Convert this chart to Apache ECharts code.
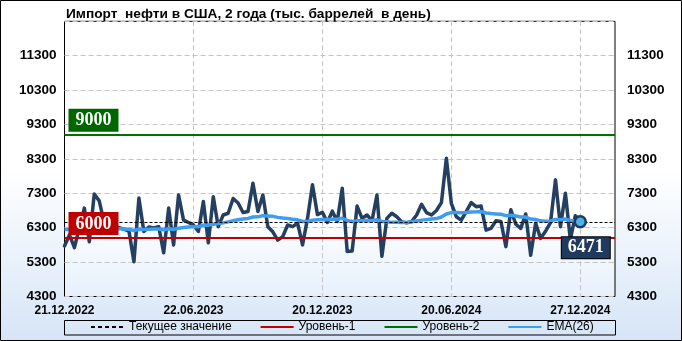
<!DOCTYPE html>
<html>
<head>
<meta charset="utf-8">
<script src="https://cdn.jsdelivr.net/npm/echarts@6/dist/echarts.min.js"></script>
<style>
html,body{margin:0;padding:0;background:#fff;}
#c{width:682px;height:341px;}
</style>
</head>
<body>
<div id="c"></div>
<script>
const titleText = 'Импорт  нефти в США, 2 года (тыс. баррелей  в день)';
const xTickLabels = ['21.12.2022', '22.06.2023', '20.12.2023', '20.06.2024', '27.12.2024'];
const tickStep = 26;
const totalSlots = 112;
const yTicks = [4300, 5300, 6300, 7300, 8300, 9300, 10300, 11300];
const level1 = 6000;
const level2 = 9000;
const importValues = [
  5770, 6090, 5720, 6300, 6870, 5890, 7280, 7080, 6450, 6350,
  6330, 6300, 6260, 6200, 5310, 7160, 6190, 6320, 6290, 6330,
  5570, 6870, 5800, 7250, 6520, 6450, 6380, 6190, 7060, 5860,
  7200, 6330, 6670, 6720, 7150, 7020, 6740, 6770, 7590, 6770,
  7250, 6330, 6180, 5940, 6040, 6380, 6330, 6430, 5800, 6570,
  7550, 6680, 6750, 6450, 6780, 6480, 7450, 5610, 5620, 6930,
  6570, 6670, 6500, 7250, 5470, 6570, 6720, 6620, 6470, 6440,
  6480, 6670, 6980, 6740, 6670, 6800, 7030, 8320, 7010, 6620,
  6520, 6770, 7030, 6910, 6930, 6230, 6280, 6500, 6480, 5750,
  6820, 6400, 6280, 6700, 5500, 6430, 5990, 6200, 6450, 7690,
  6330, 7300, 5950, 6650, 6471
];
const emaValues = [
  6250, 6250, 6240, 6245, 6260, 6255, 6265, 6275, 6280, 6275,
  6270, 6270, 6265, 6255, 6220, 6255, 6250, 6255, 6260, 6265,
  6240, 6270, 6250, 6285, 6305, 6320, 6330, 6330, 6370, 6370,
  6400, 6420, 6440, 6470, 6500, 6530, 6550, 6570, 6610, 6615,
  6650, 6640, 6630, 6600, 6580, 6570, 6545, 6530, 6480, 6480,
  6520, 6530, 6540, 6535, 6545, 6545, 6575, 6510, 6480, 6500,
  6505, 6510, 6505, 6530, 6480, 6470, 6455, 6455, 6450, 6455,
  6475, 6495, 6520, 6535, 6550, 6565, 6610, 6700, 6740, 6740,
  6735, 6740, 6755, 6760, 6770, 6730, 6710, 6700, 6690, 6650,
  6660, 6640, 6610, 6610, 6550, 6540, 6500, 6490, 6490, 6540,
  6530, 6550, 6510, 6500, 6470
];

const categories = [];
for (let i = 0; i < totalSlots; i++) categories.push(String(i));
const lastIdx = importValues.length - 1;
const lastVal = importValues[lastIdx];

const chart = echarts.init(document.getElementById('c'), null, {renderer: 'canvas'});
const G = echarts.graphic.LinearGradient;
const sansFont = 'Liberation Sans';
const serifFont = 'Liberation Serif';
const yLabelFmt = v => (yTicks.indexOf(v) >= 0 ? String(v) : '');
const boxLabel = (bg) => ({
  show: true, color: '#fff', fontFamily: serifFont, fontWeight: 'bold', fontSize: 18,
  backgroundColor: bg, padding: [2, 6, 1, 6], borderColor: bg, borderWidth: 1
});

const option = {
  animation: false,
  backgroundColor: new G(0, 0, 0, 1, [
    {offset: 0, color: '#ffffff'}, {offset: 0.5, color: '#ffffff'}, {offset: 1, color: '#d6e5f7'}
  ]),
  title: {
    text: titleText, left: 66, top: 7, padding: 0,
    textStyle: {fontFamily: sansFont, fontWeight: 'bold', fontSize: 13.7, color: '#000'}
  },
  grid: {
    left: 64.5, right: 67, top: 21.3, bottom: 44.5, show: true,
    borderColor: '#000', borderWidth: 1,
    backgroundColor: new G(0, 0, 0, 1, [
      {offset: 0, color: '#ffffff'}, {offset: 0.7, color: '#ffffff'}, {offset: 1, color: '#e6f0fc'}
    ])
  },
  legend: {
    data: ['Текущее значение', 'Уровень-1', 'Уровень-2', 'EMA(26)'],
    left: 90, top: 321, padding: 0, itemWidth: 33, itemHeight: 14, itemGap: 28,
    itemStyle: {opacity: 0},
    textStyle: {fontFamily: sansFont, fontSize: 12, color: '#000'},
    selectedMode: false
  },
  xAxis: {
    type: 'category', data: categories, boundaryGap: false,
    axisLine: {show: false}, axisTick: {show: false},
    axisLabel: {
      interval: (i) => i % tickStep === 0 && i / tickStep < xTickLabels.length,
      formatter: (v, i) => xTickLabels[i / tickStep] || '',
      margin: 8, fontFamily: sansFont, fontWeight: 'bold', fontSize: 12, color: '#000'
    },
    splitLine: {
      show: true,
      interval: (i) => i % tickStep === 0 && i > 0 && i / tickStep < xTickLabels.length,
      lineStyle: {color: '#c4c4c4', type: [5, 3], width: 1}
    }
  },
  yAxis: [
    {
      type: 'value', min: 4300, max: 12300, interval: 1000, position: 'left',
      axisLine: {show: false}, axisTick: {show: false},
      axisLabel: {formatter: yLabelFmt, margin: 8, fontFamily: sansFont, fontWeight: 'bold', fontSize: 13.5, color: '#000'},
      splitLine: {show: true, lineStyle: {color: '#c4c4c4', type: [5, 3], width: 1}}
    },
    {
      type: 'value', min: 4300, max: 12300, interval: 1000, position: 'right',
      axisLine: {show: false}, axisTick: {show: false},
      axisLabel: {formatter: yLabelFmt, margin: 12, fontFamily: sansFont, fontWeight: 'bold', fontSize: 13.5, color: '#000'},
      splitLine: {show: false}
    }
  ],
  series: [
    {
      name: 'Текущее значение', type: 'line', data: [], symbol: 'none', z: 2,
      lineStyle: {color: '#000', width: 1.2, type: [4, 3]},
      itemStyle: {color: '#000'},
      markLine: {
        silent: true, symbol: ['none', 'none'], animation: false,
        lineStyle: {color: '#000', width: 1, type: [3, 2]},
        label: {show: false},
        data: [{yAxis: lastVal}]
      }
    },
    {
      name: 'Уровень-1', type: 'line', data: [], symbol: 'none', z: 2,
      lineStyle: {color: '#c00000', width: 2.5}, itemStyle: {color: '#c00000'},
      markLine: {
        silent: true, symbol: ['none', 'none'], animation: false,
        lineStyle: {color: '#c00000', width: 2, type: 'solid'},
        label: Object.assign(boxLabel('#c00000'), {position: 'insideStartTop', distance: [5, 4], formatter: String(level1)}),
        data: [{yAxis: level1}]
      }
    },
    {
      name: 'Уровень-2', type: 'line', data: [], symbol: 'none', z: 2,
      lineStyle: {color: '#007000', width: 2.5}, itemStyle: {color: '#007000'},
      markLine: {
        silent: true, symbol: ['none', 'none'], animation: false,
        lineStyle: {color: '#007000', width: 2, type: 'solid'},
        label: Object.assign(boxLabel('#006600'), {position: 'insideStartTop', distance: [5, 4], formatter: String(level2)}),
        data: [{yAxis: level2}]
      }
    },
    {
      name: 'Импорт', type: 'line', data: importValues, symbol: 'none', z: 3,
      lineStyle: {color: '#243f60', width: 3.5, join: 'round', cap: 'round'},
      itemStyle: {color: '#243f60'},
      markPoint: {
        silent: true, animation: false,
        data: [{
          coord: [lastIdx, lastVal], symbol: 'circle', symbolSize: 11,
          itemStyle: {color: '#4db3e6', borderColor: '#1f3a5c', borderWidth: 2.5},
          label: Object.assign(boxLabel('#1f3a5c'), {
            position: 'inside', offset: [5.5, 26], formatter: String(lastVal),
            borderColor: '#000', borderWidth: 1
          })
        }]
      }
    },
    {
      name: 'EMA(26)', type: 'line', data: emaValues, symbol: 'none', z: 4,
      lineStyle: {color: '#3d9df0', width: 3.5, join: 'round'},
      itemStyle: {color: '#3d9df0'}
    }
  ],
  graphic: {
    elements: [
      {type: 'rect', silent: true, z: 100, shape: {x: 64.5, y: 320.5, width: 551, height: 14.5},
       style: {fill: 'rgba(0,0,0,0)', stroke: '#000', lineWidth: 1}},
      {type: 'rect', silent: true, z: 100, shape: {x: 0.5, y: 0.5, width: 681, height: 340},
       style: {fill: 'rgba(0,0,0,0)', stroke: '#000', lineWidth: 1}}
    ]
  }
};
chart.setOption(option);
</script>
</body>
</html>
